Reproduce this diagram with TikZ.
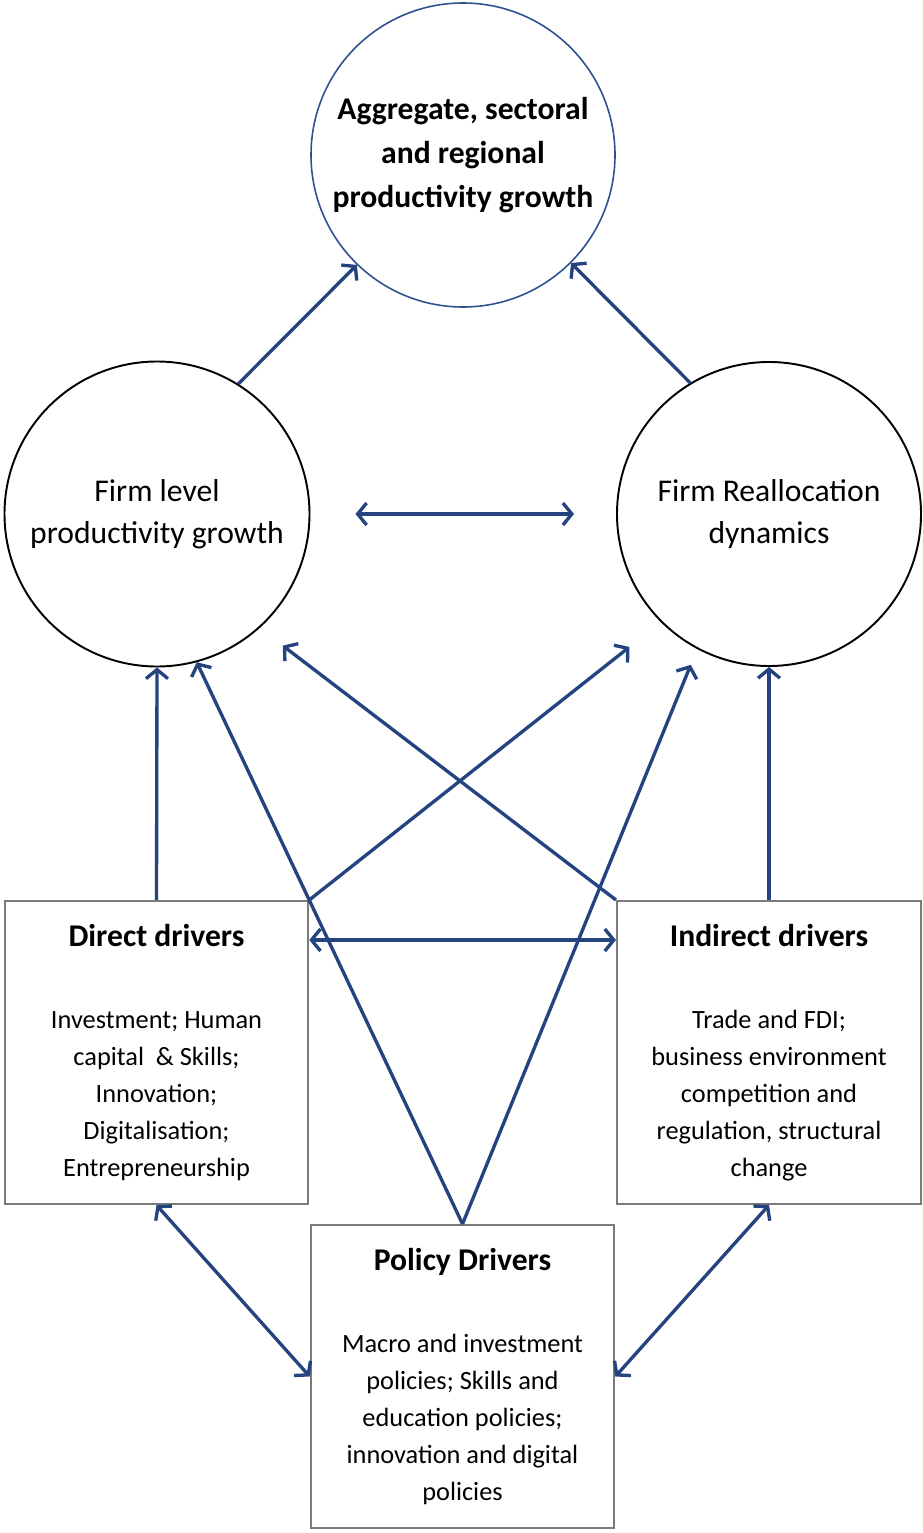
\documentclass[tikz,border=0pt]{standalone}
\usepackage{fontspec}
\setmainfont{Carlito}
\usetikzlibrary{arrows.meta, positioning}
\definecolor{linkblue}{HTML}{24437F}
\definecolor{topblue}{HTML}{2F5090}
\definecolor{boxgray}{HTML}{7A7A7A}

\tikzset{
  outcome/.style={circle, draw=black, line width=1.1pt, minimum size=6.1cm, inner sep=0pt, align=center,
    font=\fontsize{18}{23.8}\selectfont},
  drvbox/.style={rectangle, draw=boxgray, line width=1.2pt, minimum width=6.07cm, minimum height=6.06cm,
    inner sep=0pt, align=center, font=\fontsize{15}{21}\selectfont},
  link/.style={draw=linkblue, line width=1.9pt, ->},
  twoway/.style={draw=linkblue, line width=1.9pt, <->}
}
\newcommand{\boxtitle}[1]{{\fontsize{18}{21}\selectfont\bfseries #1}\\[26pt]}

\begin{document}
\begin{tikzpicture}[>={Straight Barb[length=1.8mm, width=4.4mm, line width=1.9pt]}]
\useasboundingbox (0,0) rectangle (18.44,-30.66);

% productivity circles
\node[outcome, draw=topblue, line width=0.9pt, minimum size=6.08cm, font=\fontsize{18}{25}\selectfont\bfseries]
  (aggr) at (9.26,-3.10) {Aggregate, sectoral\\and regional\\productivity growth};
\node[outcome] (firm) at (3.14,-10.28) {Firm level\\productivity growth};
\node[outcome, minimum size=6.08cm] (realloc) at (15.38,-10.28) {Firm Reallocation\\dynamics};

% driver boxes
\node[drvbox] (direct) at (3.13,-21.05)
  {\boxtitle{Direct drivers}Investment; Human\\capital~~\& Skills;\\Innovation;\\Digitalisation;\\Entrepreneurship};
\node[drvbox, minimum width=6.08cm] (indirect) at (15.38,-21.05)
  {\boxtitle{Indirect drivers}Trade and FDI;\\business environment\\competition and\\regulation, structural\\change};
\node[drvbox] (policy) at (9.25,-27.53)
  {\boxtitle{Policy Drivers}Macro and investment\\policies; Skills and\\education policies;\\innovation and digital\\policies};

% links between levels
\draw[link] (firm.58) -- (aggr.226);
\draw[link] (realloc.121) -- (aggr.315);
\draw[twoway, shorten <=0.9cm, shorten >=0.84cm] (firm) -- (realloc);

\draw[link] (direct.north) -- (firm.south);
\draw[link, shorten >=0.8cm] (direct.north east) -- (realloc.225);
\draw[link] (indirect.north) -- (realloc.south);
\draw[link, shorten >=0.58cm] (indirect.north west) -- (firm.312);
\draw[link] (policy.north) -- (firm.285);
\draw[link, shorten >=0.34cm] (policy.north) -- (realloc.242);

\draw[twoway] ([yshift=2.25cm]direct.east) -- ([yshift=2.25cm]indirect.west);
\draw[twoway] (direct.south) -- (policy.west);
\draw[twoway] (indirect.south) -- (policy.east);
\end{tikzpicture}
\end{document}
